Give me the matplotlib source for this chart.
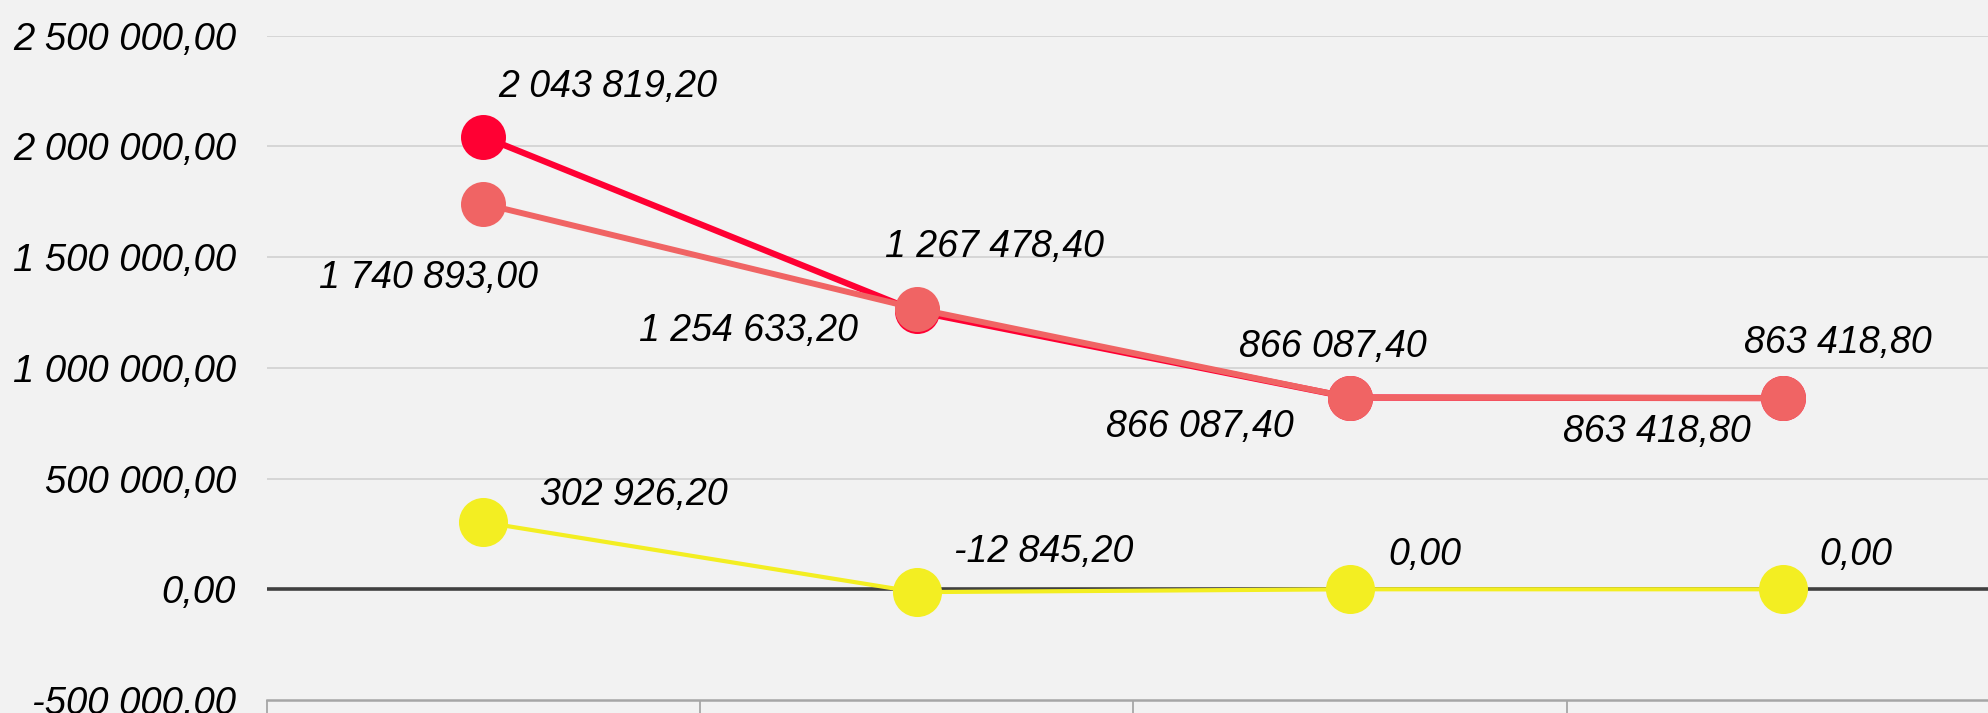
import matplotlib
matplotlib.use("Agg")
import matplotlib.pyplot as plt
from matplotlib.ticker import FuncFormatter, FixedLocator

plt.rcParams['font.family'] = ['Liberation Sans', 'DejaVu Sans']

# ---- data ----
categories = [0, 1, 2, 3]
series_red = [2043819.20, 1254633.20, 866087.40, 863418.80]
series_salmon = [1740893.00, 1267478.40, 866087.40, 863418.80]
series_yellow = [302926.20, -12845.20, 0.00, 0.00]
y_ticks = [-500000, 0, 500000, 1000000, 1500000, 2000000, 2500000]


def fmt(v, pos=None):
    s = f"{abs(v):,.2f}".replace(",", " ").replace(".", ",")
    return ("-" if v < 0 else "") + s


# label placements (pixel offsets from the point, horizontal alignment)
red_lbl = [(14.5, 40, 'left'), (-58.4, -29.5, 'right'), (-56.2, -39.8, 'right'), (-33, -43.6, 'right')]
salmon_lbl = [(54.5, -84.4, 'right'), (-31.4, 52, 'left'), (-110.7, 40.8, 'left'), (-39, 45.1, 'left')]
yellow_lbl = [(56.5, 17.2, 'left'), (36.9, 30.4, 'left'), (38.3, 24.3, 'left'), (36, 24.3, 'left')]

W, H = 1988, 713
fig = plt.figure(figsize=(W / 100, H / 100), dpi=100)
fig.patch.set_facecolor('#f2f2f2')
ax = fig.add_axes([266.6 / W, 13 / H, 4 * 433.4 / W, (700 - 35.7) / H])
ax.set_facecolor('#f2f2f2')

ax.set_xlim(-0.5, 3.5)
ax.set_ylim(-500000, 2500000)

# grid
ax.yaxis.set_major_locator(FixedLocator(y_ticks))
ax.yaxis.set_major_formatter(FuncFormatter(fmt))
for t in y_ticks[1:]:
    if t == 0:
        continue
    ax.axhline(t, color='#d4d4d4', lw=1.3, zorder=0)
ax.axhline(0, color='#404040', lw=2.6, zorder=1)

for s in ['top', 'right', 'left']:
    ax.spines[s].set_visible(False)
ax.spines['bottom'].set_color('#a6a6a6')
ax.spines['bottom'].set_linewidth(1.8)

ax.tick_params(axis='y', length=0, pad=22, labelsize=27.5, labelcolor='black')
for lab in ax.get_yticklabels():
    lab.set_fontstyle('italic')

ax.xaxis.set_major_locator(FixedLocator(categories))
ax.xaxis.set_minor_locator(FixedLocator([c - 0.5 for c in categories] + [categories[-1] + 0.5]))
ax.tick_params(axis='x', which='major', length=0, labelbottom=False)
ax.tick_params(axis='x', which='minor', length=20, width=1.3, color='#a6a6a6', direction='out')

# lines
ax.plot(categories, series_red, color='#ff0033', lw=4.5, marker='o', ms=32.4, mew=0, zorder=3,
        solid_capstyle='butt')
ax.plot(categories, series_salmon, color='#f06464', lw=4.3, marker='o', ms=32.4, mew=0, zorder=4,
        solid_capstyle='butt')
ax.plot(categories, series_yellow, color='#f3ee22', lw=3.0, marker='o', ms=35.3, mew=0, zorder=5,
        solid_capstyle='butt')

for vals, lbls in [(series_red, red_lbl), (series_salmon, salmon_lbl), (series_yellow, yellow_lbl)]:
    for x, v, (dx, dy, ha) in zip(categories, vals, lbls):
        ax.annotate(fmt(v), (x, v), xytext=(dx, dy), textcoords='offset pixels',
                    ha=ha, va='baseline', fontsize=27, fontstyle='italic', color='black',
                    zorder=6, annotation_clip=False)

fig.savefig('out.png', dpi=100, facecolor=fig.get_facecolor())
